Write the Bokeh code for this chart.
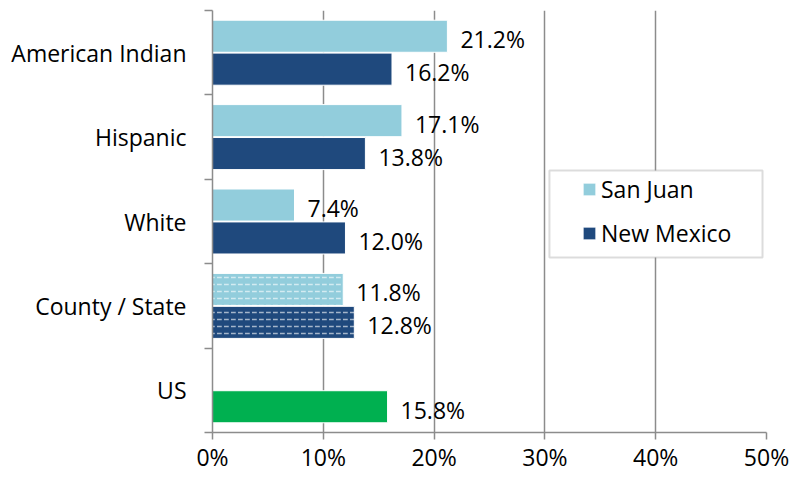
from bokeh.plotting import figure
from bokeh.models import (ColumnDataSource, FixedTicker, NumeralTickFormatter, Legend,
                          LegendItem, BoxAnnotation, Range1d)
from bokeh.core.properties import value
from bokeh.embed import file_html
from bokeh.resources import INLINE

categories = ["American Indian", "Hispanic", "White", "County / State", "US"]
san_juan = [0.212, 0.171, 0.074, 0.118]
new_mexico = [0.162, 0.138, 0.120, 0.128]
us_value = [0.158]
x_ticks = [0.0, 0.1, 0.2, 0.3, 0.4, 0.5]

FONT = "Open Sans"
FS = "23px"
SJ_COLOR = "#92CDDC"
NM_COLOR = "#1F497D"
US_COLOR = "#00B050"
GRID = "#8c8c8c"
OFF = 0.195
H = 0.38

n = len(categories)
centers = [n - i - 0.5 for i in range(n)]

def src(vals, idx, off):
    return ColumnDataSource(dict(
        x=list(vals),
        y=[centers[i] + off for i in idx],
        label=[f"{v*100:.1f}%" for v in vals],
    ))

p = figure(width=791, height=481, output_backend="svg", toolbar_location=None,
           x_range=Range1d(0, 0.5), y_range=Range1d(0, n),
           min_border_left=212, min_border_right=25, min_border_top=10, min_border_bottom=49)
p.outline_line_color = None
p.background_fill_color = "white"

sj_solid = src(san_juan[:3], [0, 1, 2], OFF)
sj_hatch = src(san_juan[3:], [3], OFF)
nm_solid = src(new_mexico[:3], [0, 1, 2], -OFF)
nm_hatch = src(new_mexico[3:], [3], -OFF)
us_src = src(us_value, [4], -OFF)

hatch = dict(hatch_pattern="horizontal_dash", hatch_color="white", hatch_scale=7,
             hatch_weight=1.5, hatch_alpha=0.6)

r_sj = p.hbar(y="y", right="x", left=0, height=H, source=sj_solid,
              fill_color=SJ_COLOR, line_color="white", line_width=1)
p.hbar(y="y", right="x", left=0, height=H, source=sj_hatch,
       fill_color=SJ_COLOR, line_color="white", line_width=1, **hatch)
r_nm = p.hbar(y="y", right="x", left=0, height=H, source=nm_solid,
              fill_color=NM_COLOR, line_color="white", line_width=1)
p.hbar(y="y", right="x", left=0, height=H, source=nm_hatch,
       fill_color=NM_COLOR, line_color="white", line_width=1, **hatch)
p.hbar(y="y", right="x", left=0, height=H, source=us_src,
       fill_color=US_COLOR, line_color="white", line_width=1)

for s in [sj_solid, sj_hatch, nm_solid, nm_hatch, us_src]:
    p.text(x="x", y="y", text="label", source=s, x_offset=13, y_offset=3,
           text_align="left", text_baseline="middle", text_font=value(FONT),
           text_font_size=FS, text_color="black")

p.xaxis.ticker = FixedTicker(ticks=x_ticks)
p.xaxis.formatter = NumeralTickFormatter(format="0%")
p.xaxis.axis_line_color = GRID
p.xaxis.axis_line_width = 1.5
p.xaxis.major_tick_line_color = GRID
p.xaxis.major_tick_line_width = 1.5
p.xaxis.major_tick_out = 7
p.xaxis.major_tick_in = 0
p.xaxis.minor_tick_line_color = None
p.xaxis.major_label_standoff = 1
p.xaxis.major_label_text_font = FONT
p.xaxis.major_label_text_font_size = FS
p.xaxis.major_label_text_color = "black"

p.yaxis.ticker = FixedTicker(ticks=centers, minor_ticks=list(range(n + 1)))
p.yaxis.major_label_overrides = {c: categories[i] for i, c in enumerate(centers)}
p.yaxis.axis_line_color = GRID
p.yaxis.axis_line_width = 1.5
p.yaxis.major_tick_line_color = None
p.yaxis.major_tick_out = 0
p.yaxis.major_tick_in = 0
p.yaxis.minor_tick_line_color = GRID
p.yaxis.minor_tick_line_width = 1.5
p.yaxis.minor_tick_out = 8
p.yaxis.minor_tick_in = 0
p.yaxis.major_label_standoff = 18
p.yaxis.major_label_text_font = FONT
p.yaxis.major_label_text_font_size = FS
p.yaxis.major_label_text_color = "black"

p.xgrid.ticker = FixedTicker(ticks=x_ticks)
p.xgrid.grid_line_color = GRID
p.xgrid.grid_line_width = 1.5
p.ygrid.grid_line_color = None

box = BoxAnnotation(left=0.3041, right=0.4964, bottom=2.073, top=3.104,
                    fill_color="white", fill_alpha=1, line_color=GRID, line_width=2)
p.add_layout(box)

legend = Legend(items=[LegendItem(label="San Juan", renderers=[r_sj]),
                       LegendItem(label="New Mexico", renderers=[r_nm])],
                location=(369, 183), padding=0, margin=0, spacing=12,
                label_height=31, glyph_width=16, glyph_height=16, label_standoff=4,
                border_line_alpha=0, background_fill_alpha=0,
                label_text_font=FONT, label_text_font_size=FS, label_text_color="black")
p.add_layout(legend)

open("out.html", "w").write(file_html(p, INLINE))
